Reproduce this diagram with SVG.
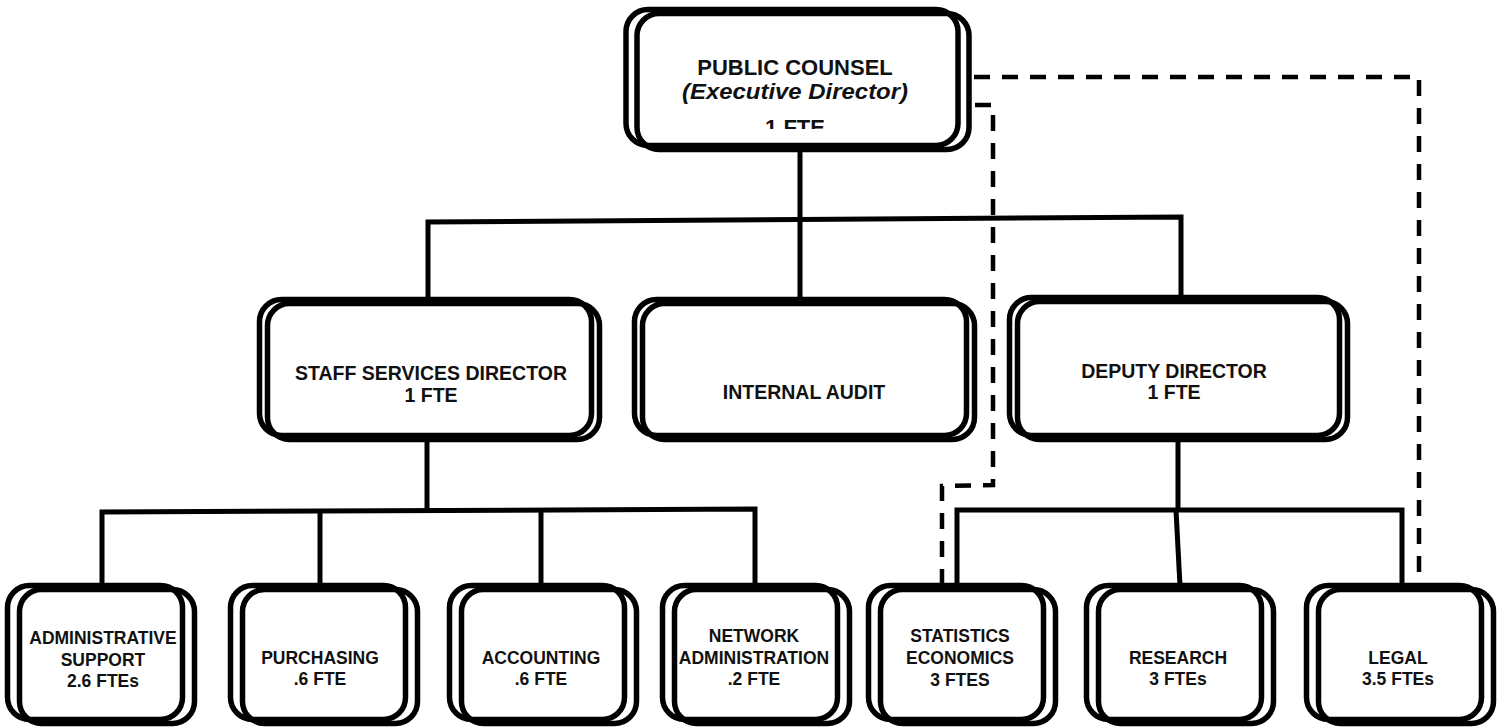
<svg xmlns="http://www.w3.org/2000/svg" width="1506" height="727" viewBox="0 0 1506 727">
<style>
.b{fill:none;stroke:#000;stroke-width:5.5}
.c{fill:none;stroke:#000;stroke-width:5;stroke-linecap:butt}
.d{fill:none;stroke:#000;stroke-width:4.5;stroke-dasharray:16 12}
text{font-family:"Liberation Sans",Arial,sans-serif;font-weight:bold;fill:#111;text-anchor:middle}
.t1{font-size:22px}
.t2{font-size:19.5px}
.t3{font-size:17.5px}
</style>
<defs>
<clipPath id="clipTop"><rect x="600" y="0" width="400" height="129"/></clipPath>
</defs>
<rect width="1506" height="727" fill="#fff"/>
<g id="connectors">
<line class="c" x1="800" y1="150" x2="800" y2="298"/>
<polyline class="c" points="428,299 428,222 1181,217 1181,297"/>
<line class="c" x1="427" y1="440" x2="427" y2="511"/>
<polyline class="c" points="102,586 102,512 755,509 755,586"/>
<line class="c" x1="320" y1="511" x2="320" y2="586"/>
<line class="c" x1="541" y1="510" x2="541" y2="586"/>
<line class="c" x1="1178" y1="440" x2="1178" y2="510"/>
<polyline class="c" points="957,586 957,510 1402,510 1402,590"/>
<line class="c" x1="1176" y1="510" x2="1180" y2="586"/>
<polyline class="d" points="974,77 1419,77 1419,588"/>
<polyline class="d" points="975,105 993,105 993,485 942,486 942,586"/>
</g>
<g id="public-counsel">
<rect class="b" x="626" y="9.5" width="332" height="136" rx="22"/>
<rect class="b" x="637" y="13.5" width="332" height="136" rx="22"/>
<text class="t1" x="795" y="75">PUBLIC COUNSEL</text>
<text class="t1" x="795" y="99" font-style="italic" textLength="226" lengthAdjust="spacingAndGlyphs">(Executive Director)</text>
<text class="t1" x="795" y="135" clip-path="url(#clipTop)">1 FTE</text>
</g>
<g id="staff-services">
<rect class="b" x="259.5" y="299.5" width="332" height="136" rx="22"/>
<rect class="b" x="267.5" y="303.5" width="332" height="136" rx="22"/>
<text class="t2" x="431" y="380">STAFF SERVICES DIRECTOR</text>
<text class="t2" x="431" y="402">1 FTE</text>
</g>
<g id="internal-audit">
<rect class="b" x="634.5" y="299.5" width="332" height="136" rx="22"/>
<rect class="b" x="642.5" y="303.5" width="332" height="136" rx="22"/>
<text class="t2" x="804" y="399">INTERNAL AUDIT</text>
</g>
<g id="deputy-director">
<rect class="b" x="1009.5" y="297.5" width="330" height="138" rx="22"/>
<rect class="b" x="1017.5" y="301.5" width="330" height="138" rx="22"/>
<text class="t2" x="1174" y="378">DEPUTY DIRECTOR</text>
<text class="t2" x="1174" y="399">1 FTE</text>
</g>
<g id="admin-support">
<rect class="b" x="7.5" y="585.5" width="175" height="134" rx="22"/>
<rect class="b" x="19.5" y="589.5" width="175" height="134" rx="22"/>
<text class="t3" x="103" y="644">ADMINISTRATIVE</text>
<text class="t3" x="103" y="666">SUPPORT</text>
<text class="t3" x="103" y="687">2.6 FTEs</text>
</g>
<g id="purchasing">
<rect class="b" x="230.5" y="585.5" width="175" height="134" rx="22"/>
<rect class="b" x="242.5" y="589.5" width="175" height="134" rx="22"/>
<text class="t3" x="320" y="664">PURCHASING</text>
<text class="t3" x="320" y="685">.6 FTE</text>
</g>
<g id="accounting">
<rect class="b" x="449.5" y="585.5" width="175" height="134" rx="22"/>
<rect class="b" x="461.5" y="589.5" width="175" height="134" rx="22"/>
<text class="t3" x="541" y="664">ACCOUNTING</text>
<text class="t3" x="541" y="685">.6 FTE</text>
</g>
<g id="network-admin">
<rect class="b" x="662.5" y="585.5" width="175" height="134" rx="22"/>
<rect class="b" x="674.5" y="589.5" width="175" height="134" rx="22"/>
<text class="t3" x="754" y="642">NETWORK</text>
<text class="t3" x="754" y="664">ADMINISTRATION</text>
<text class="t3" x="754" y="685">.2 FTE</text>
</g>
<g id="statistics">
<rect class="b" x="868.5" y="585.5" width="175" height="134" rx="22"/>
<rect class="b" x="880.5" y="589.5" width="175" height="134" rx="22"/>
<text class="t3" x="960" y="642">STATISTICS</text>
<text class="t3" x="960" y="664">ECONOMICS</text>
<text class="t3" x="960" y="686">3 FTES</text>
</g>
<g id="research">
<rect class="b" x="1086.5" y="585.5" width="175" height="134" rx="22"/>
<rect class="b" x="1098.5" y="589.5" width="175" height="134" rx="22"/>
<text class="t3" x="1178" y="664">RESEARCH</text>
<text class="t3" x="1178" y="685">3 FTEs</text>
</g>
<g id="legal">
<rect class="b" x="1306.5" y="585.5" width="175" height="134" rx="22"/>
<rect class="b" x="1318.5" y="589.5" width="175" height="134" rx="22"/>
<text class="t3" x="1398" y="664">LEGAL</text>
<text class="t3" x="1398" y="685">3.5 FTEs</text>
</g>
</svg>
